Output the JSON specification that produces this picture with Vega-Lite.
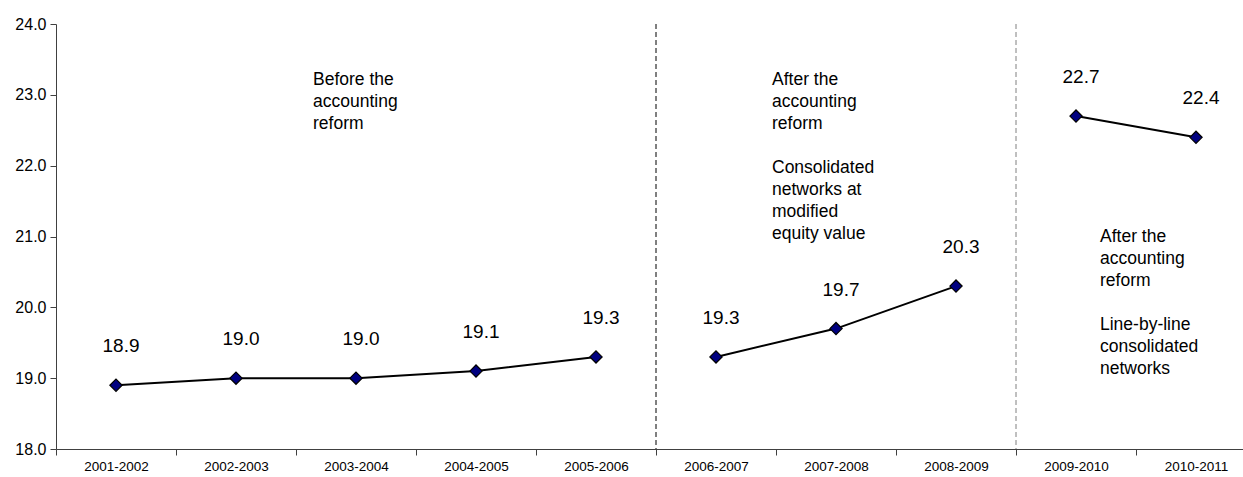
{
  "$schema": "https://vega.github.io/schema/vega-lite/v6.json",
  "autosize": "none",
  "padding": {"left": 56, "top": 24, "right": 0, "bottom": 28},
  "width": 1187,
  "height": 425,
  "background": "white",
  "config": {
    "font": "Liberation Sans",
    "view": {"stroke": null},
    "text": {"font": "Liberation Sans", "color": "black"}
  },
  "datasets": {
    "main": [
      {"year": "2001-2002", "value": 18.9, "period": "before"},
      {"year": "2002-2003", "value": 19.0, "period": "before"},
      {"year": "2003-2004", "value": 19.0, "period": "before"},
      {"year": "2004-2005", "value": 19.1, "period": "before"},
      {"year": "2005-2006", "value": 19.3, "period": "before"},
      {"year": "2006-2007", "value": 19.3, "period": "equity"},
      {"year": "2007-2008", "value": 19.7, "period": "equity"},
      {"year": "2008-2009", "value": 20.3, "period": "equity"},
      {"year": "2009-2010", "value": 22.7, "period": "linebyline"},
      {"year": "2010-2011", "value": 22.4, "period": "linebyline"}
    ],
    "seps": [
      {"year": "2006-2007", "sep": "a"},
      {"year": "2009-2010", "sep": "b"}
    ]
  },
  "encoding": {
    "x": {
      "field": "year",
      "type": "nominal",
      "sort": null,
      "scale": {
        "domain": ["2001-2002","2002-2003","2003-2004","2004-2005","2005-2006","2006-2007","2007-2008","2008-2009","2009-2010","2010-2011"],
        "range": [0, 1200],
        "paddingInner": 0,
        "paddingOuter": 0
      },
      "axis": {
        "title": null,
        "labelAngle": 0,
        "tickBand": "extent",
        "domainColor": "#404040",
        "tickColor": "#404040",
        "tickSize": 6,
        "labelPadding": 4,
        "labelFontSize": 13.5,
        "labelColor": "black",
        "labelFont": "Liberation Sans",
        "grid": false
      }
    }
  },
  "layer": [
    {
      "data": {"name": "seps"},
      "mark": {"type": "rule", "strokeDash": [5, 3], "strokeWidth": 1},
      "encoding": {
        "x": {"field": "year", "type": "nominal", "bandPosition": 0},
        "color": {"field": "sep", "type": "nominal", "scale": {"domain": ["a", "b"], "range": ["#000000", "#808080"]}, "legend": null}
      }
    },
    {
      "data": {"name": "main"},
      "mark": {"type": "line", "color": "black", "strokeWidth": 2},
      "encoding": {
        "y": {
          "field": "value",
          "type": "quantitative",
          "scale": {"domain": [18, 24], "nice": false, "zero": false},
          "axis": {
            "title": null,
            "values": [18, 19, 20, 21, 22, 23, 24],
            "format": ".1f",
            "grid": false,
            "domainColor": "#404040",
            "tickColor": "#404040",
            "tickSize": 6,
            "labelPadding": 4,
            "labelFontSize": 16,
            "labelColor": "black",
            "labelFont": "Liberation Sans"
          }
        },
        "detail": {"field": "period", "type": "nominal"}
      }
    },
    {
      "data": {"name": "main"},
      "mark": {"type": "point", "shape": "diamond", "filled": true, "fill": "#000080", "stroke": "black", "strokeWidth": 1.2, "size": 150, "opacity": 1},
      "encoding": {
        "y": {"field": "value", "type": "quantitative"}
      }
    },
    {
      "data": {"name": "main"},
      "mark": {"type": "text", "fontSize": 19, "dy": -33, "dx": 5, "baseline": "alphabetic", "align": "center"},
      "encoding": {
        "y": {"field": "value", "type": "quantitative"},
        "text": {"field": "value", "type": "quantitative", "format": ".1f"}
      }
    },
    {
      "data": {"values": [{"year": "2003-2004", "value": 23.14, "label": "Before the\naccounting\nreform"}]},
      "mark": {"type": "text", "fontSize": 17.5, "lineHeight": 22, "lineBreak": "\n", "align": "left", "baseline": "alphabetic", "dx": -43},
      "encoding": {
        "y": {"field": "value", "type": "quantitative"},
        "text": {"field": "label", "type": "nominal"}
      }
    },
    {
      "data": {"values": [
        {"year": "2007-2008", "value": 23.14, "label": "After the\naccounting\nreform"},
        {"year": "2007-2008", "value": 21.90, "label": "Consolidated\nnetworks at\nmodified\nequity value"}
      ]},
      "mark": {"type": "text", "fontSize": 17.5, "lineHeight": 22, "lineBreak": "\n", "align": "left", "baseline": "alphabetic", "dx": -64},
      "encoding": {
        "y": {"field": "value", "type": "quantitative"},
        "text": {"field": "label", "type": "nominal"}
      }
    },
    {
      "data": {"values": [
        {"year": "2009-2010", "value": 20.92, "label": "After the\naccounting\nreform"},
        {"year": "2009-2010", "value": 19.68, "label": "Line-by-line\nconsolidated\nnetworks"}
      ]},
      "mark": {"type": "text", "fontSize": 17.5, "lineHeight": 22, "lineBreak": "\n", "align": "left", "baseline": "alphabetic", "dx": 24},
      "encoding": {
        "y": {"field": "value", "type": "quantitative"},
        "text": {"field": "label", "type": "nominal"}
      }
    }
  ]
}
